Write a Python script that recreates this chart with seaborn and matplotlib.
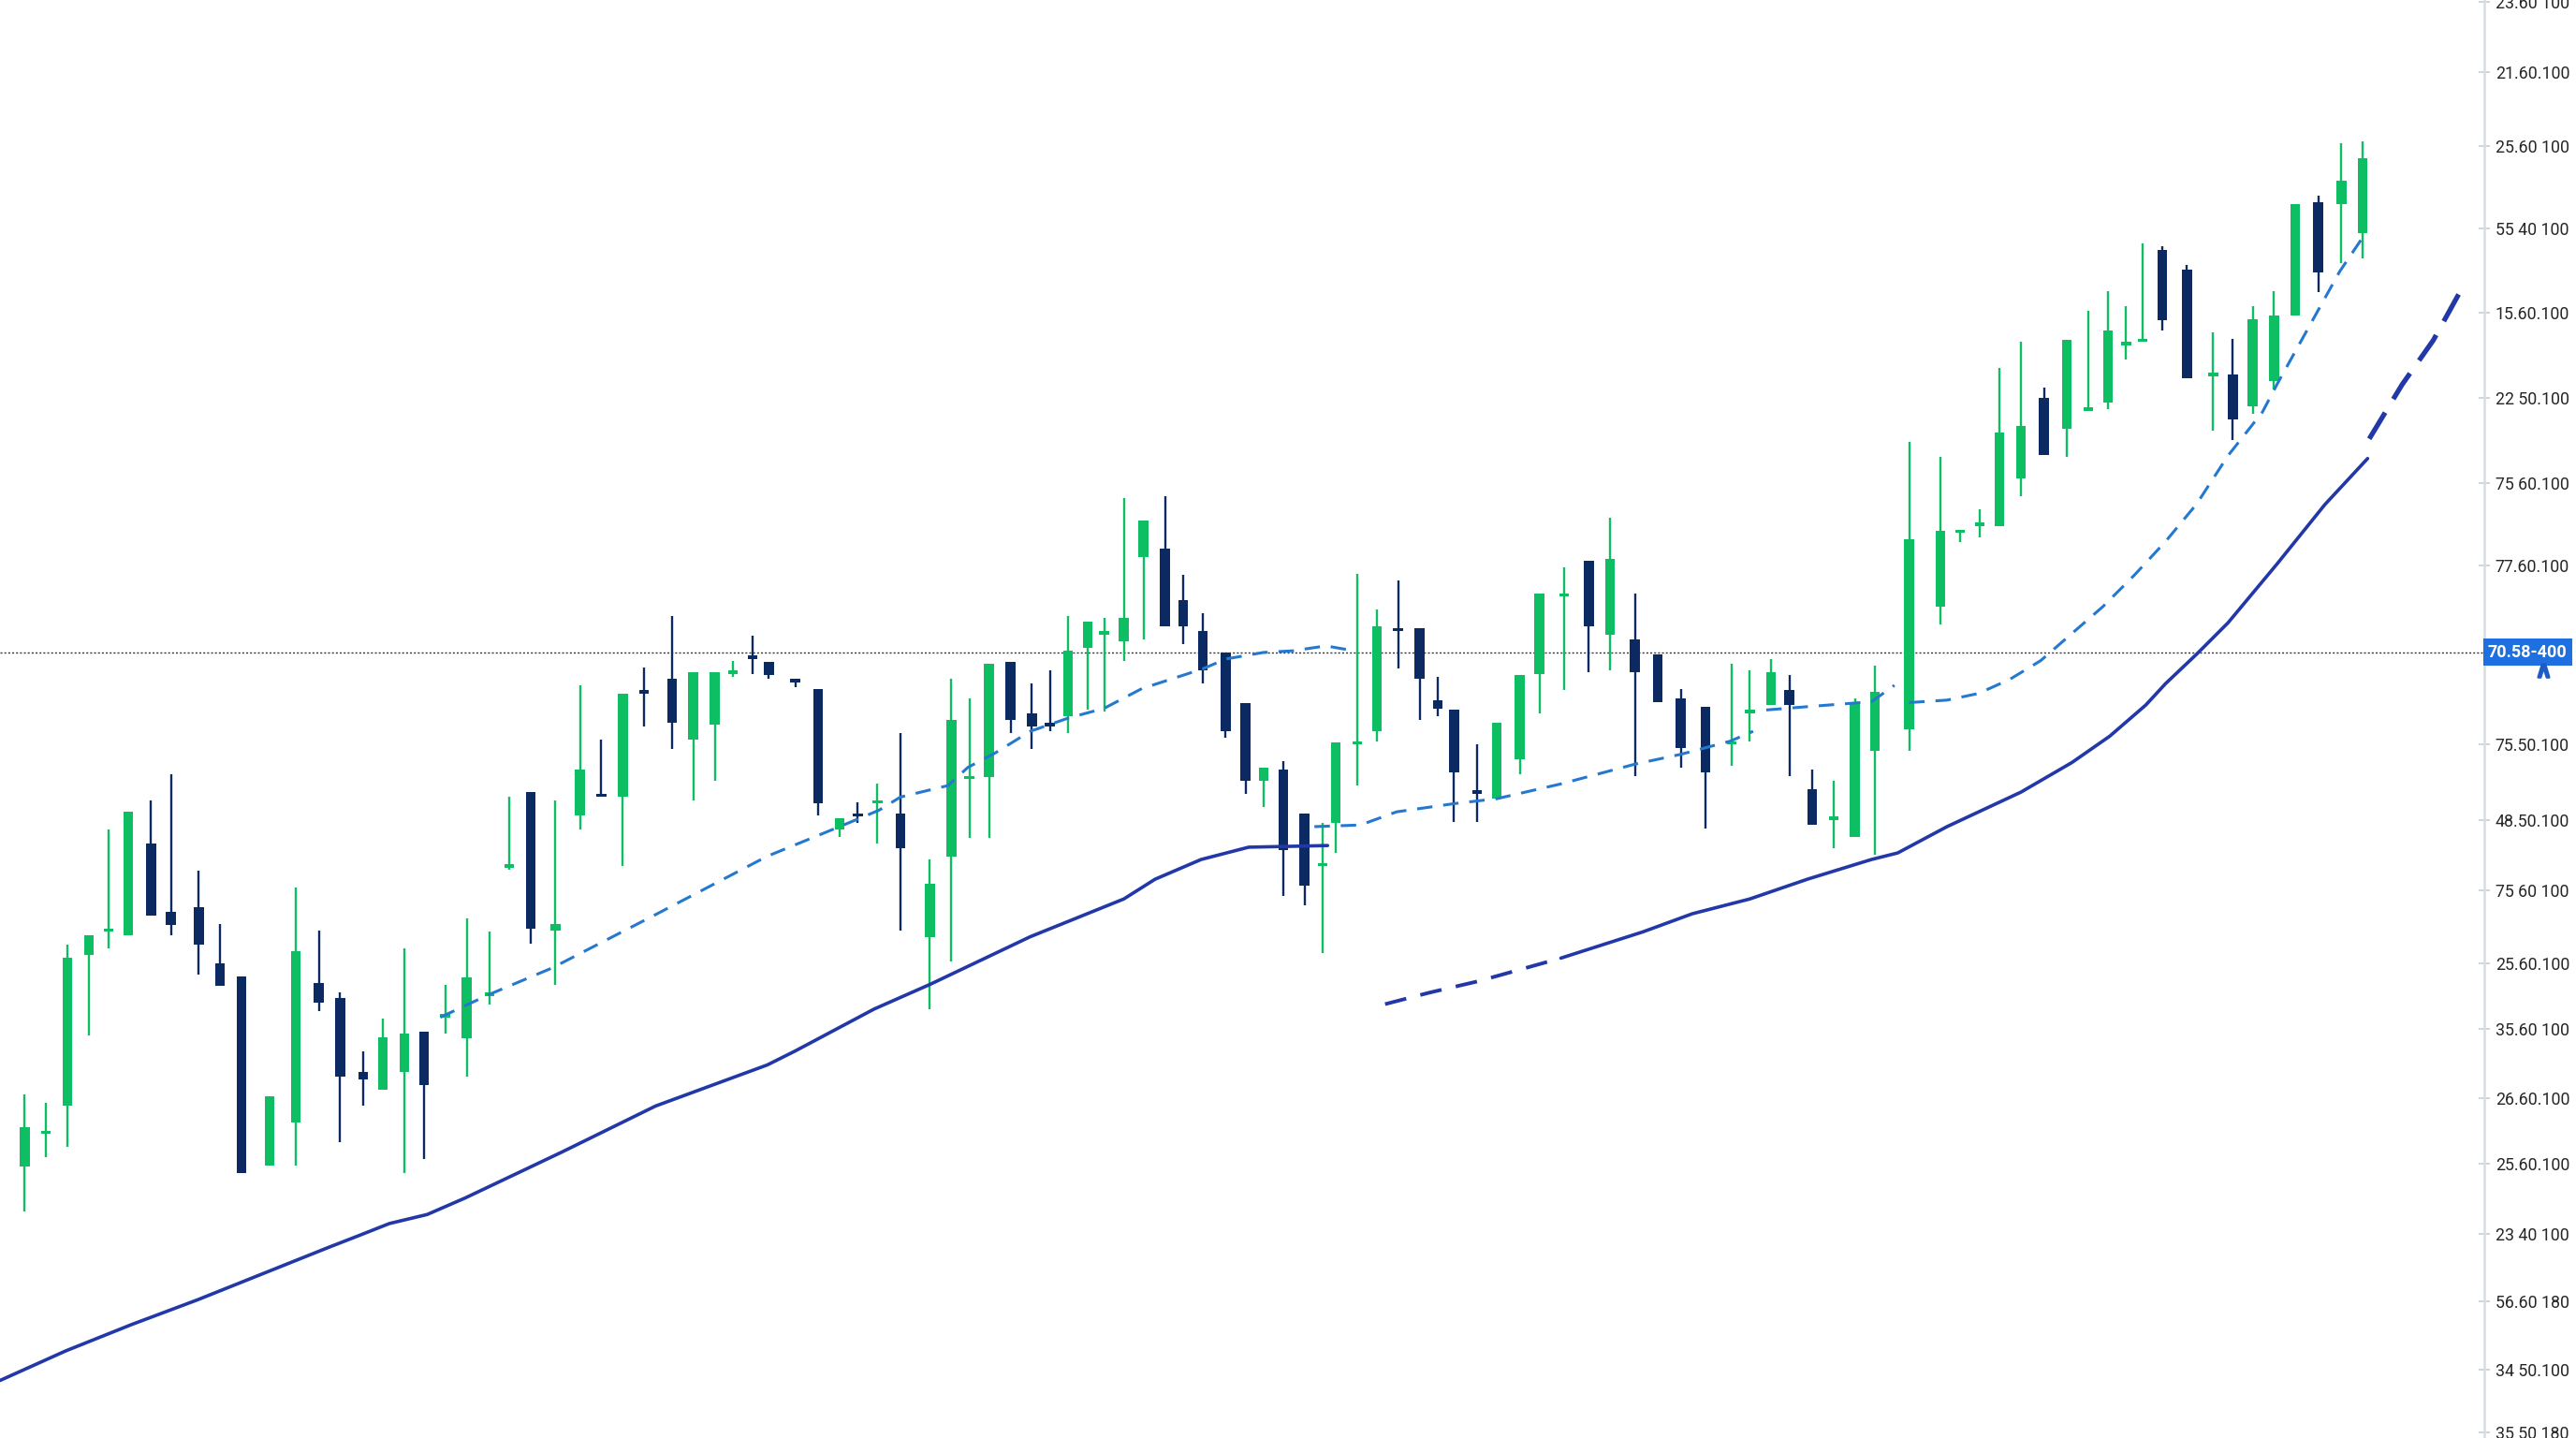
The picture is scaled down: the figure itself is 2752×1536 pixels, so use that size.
import numpy as np
import pandas as pd
import matplotlib
matplotlib.use("Agg")
import matplotlib.pyplot as plt
from matplotlib.transforms import blended_transform_factory
import seaborn as sns

# ---------------- data ----------------
# time position of each session
t = [15, 28, 41, 54, 66, 78, 92, 104, 121, 134, 147, 164, 180, 194, 207, 221, 233, 246, 258, 271,
     284, 298, 310, 323, 338, 353, 366, 379, 392, 409, 422, 435, 446, 458, 468, 484, 498, 511, 522, 534,
     548, 566, 579, 590, 602, 615, 628, 639, 650, 662, 672, 684, 696, 709, 720, 732, 746, 758, 769, 781,
     794, 805, 813, 826, 838, 851, 864, 875, 885, 899, 911, 925, 937, 952, 967, 980, 995, 1009, 1023, 1038,
     1054, 1065, 1078, 1089, 1103, 1116, 1129, 1141, 1162, 1181, 1193, 1205, 1217, 1230, 1244, 1258, 1271, 1283, 1294, 1304,
     1316, 1331, 1347, 1359, 1371, 1384, 1397, 1411, 1425, 1438]
opens = [165, 185, 202, 294, 308, 306, 362, 320, 323, 289, 281, 166, 192, 277, 268, 223, 212, 223, 247, 256,
         243, 269, 347, 393, 309, 379, 392, 390, 455, 462, 425, 434, 465, 476, 472, 462, 456, 370, 380, 386,
         380, 305, 354, 401, 402, 472, 441, 435, 439, 481, 489, 485, 536, 541, 510, 491, 478, 447, 400, 407,
         380, 348, 374, 422, 430, 493, 493, 449, 443, 394, 389, 413, 465, 512, 534, 489, 486, 477, 450, 445,
         422, 441, 446, 455, 395, 376, 366, 418, 431, 506, 551, 555, 555, 584, 633, 614, 625, 630, 665, 667,
         723, 711, 646, 647, 628, 643, 683, 752, 751, 733]
closes = [189, 187, 292, 306, 310, 381, 318, 312, 300, 275, 161, 208, 296, 265, 220, 218, 244, 246, 215, 258,
          280, 271, 349, 310, 313, 407, 390, 453, 453, 435, 466, 466, 467, 474, 464, 460, 386, 377, 378, 388,
          359, 337, 437, 403, 471, 437, 433, 433, 479, 497, 491, 499, 558, 494, 494, 467, 430, 400, 408, 358,
          336, 350, 423, 424, 494, 491, 462, 444, 405, 392, 435, 464, 514, 514, 494, 535, 466, 448, 420, 405,
          424, 443, 466, 446, 373, 378, 448, 454, 547, 552, 552, 557, 612, 616, 598, 668, 627, 674, 667, 669,
          680, 645, 648, 620, 681, 683, 751, 709, 765, 779]
highs = [209, 204, 300, 306, 370, 381, 388, 404, 345, 313, 281, 208, 335, 309, 271, 235, 255, 298, 247, 276,
         316, 308, 390, 393, 388, 458, 425, 453, 469, 500, 466, 466, 473, 488, 472, 462, 456, 377, 387, 398,
         429, 352, 462, 450, 471, 472, 459, 467, 500, 497, 499, 572, 558, 573, 525, 502, 478, 447, 408, 412,
         380, 374, 423, 526, 504, 522, 493, 463, 443, 422, 435, 464, 514, 530, 534, 560, 514, 477, 456, 445,
         471, 467, 474, 464, 407, 400, 450, 470, 606, 597, 552, 565, 651, 667, 639, 668, 686, 698, 689, 727,
         725, 714, 673, 669, 689, 698, 751, 756, 788, 789]
lows = [138, 171, 177, 245, 298, 306, 318, 306, 282, 275, 161, 166, 166, 260, 180, 202, 212, 161, 170, 246,
        220, 264, 346, 301, 276, 370, 390, 348, 433, 419, 388, 400, 463, 465, 462, 457, 379, 366, 374, 362,
        309, 261, 290, 365, 365, 429, 419, 430, 429, 443, 442, 473, 486, 494, 483, 459, 426, 392, 384, 330,
        324, 295, 356, 397, 424, 468, 437, 439, 375, 375, 389, 404, 441, 455, 466, 467, 403, 448, 408, 371,
        409, 424, 446, 403, 373, 359, 366, 355, 418, 495, 545, 548, 555, 573, 598, 597, 625, 626, 656, 667,
        674, 645, 613, 607, 623, 638, 683, 697, 715, 718]

# slow moving average (solid) and its dashed pieces
slow_a_t = [0, 40, 80, 120, 160, 200, 218, 237, 260, 283, 342, 399, 467, 484, 532, 566, 627, 684, 703, 731, 760, 808]
slow_a_v = [35, 53, 69, 84, 100, 116, 123, 130.5, 136, 146, 174, 202, 227, 235.5, 261, 276, 305, 328, 340, 352, 359.5, 360.5]
slow_b_t = [843, 870, 900, 925, 950]
slow_b_v = [264, 271, 278, 285, 292]
slow_c_t = [950, 1000, 1030, 1065, 1100, 1139, 1155, 1185, 1230, 1261, 1284, 1306, 1318, 1337, 1356, 1386, 1415, 1441]
slow_c_v = [292, 308, 319, 328, 340, 352, 356, 372, 393, 411, 427, 446, 459, 477, 496, 532, 568, 596]
slow_d_t = [1442, 1462, 1481, 1497]
slow_d_v = [608, 641, 668, 697]

# fast moving average (light dashed), drawn in pieces
fast_a_t = [268, 298, 336, 400, 467, 511, 535, 548, 577, 589, 606, 627, 650, 672, 695, 732, 746, 769, 787, 807, 824]
fast_a_v = [256, 270, 286, 319, 354, 372, 382, 390, 397, 408, 417, 430, 438, 444, 456, 468, 474, 478, 479, 482, 479]
fast_b_t = [800, 828, 850, 885, 911, 950, 995, 1023, 1053, 1067]
fast_b_v = [372, 373, 381, 386, 389, 398, 410, 416, 424, 430]
fast_c_t = [1075, 1100, 1139, 1153]
fast_c_v = [443, 445, 448, 458]
fast_d_t = [1162, 1185, 1204, 1223, 1242, 1261, 1280, 1299, 1318, 1337, 1356, 1377, 1386, 1405, 1424, 1440]
fast_d_v = [447.5, 449, 453, 461.5, 473, 489.5, 506, 525, 545.5, 568.4, 597.7, 624.3, 641.4, 675.6, 709.8, 733.5]

last_price = 478
last_price_label = "70.58-400"

tick_values = [874, 831, 786, 736, 685, 633, 581, 531, 422, 376, 333.5, 289, 249, 207, 167, 124, 83, 41.6, 3.5]
tick_labels = ["23.60 100", "21.60.100", "25.60 100", "55 40 100", "15.60.100", "22 50.100", "75 60.100",
               "77.60.100", "75.50.100", "48.50.100", "75 60 100", "25.60.100", "35.60 100", "26.60.100",
               "25.60.100", "23 40 100", "56.60 180", "34 50.100", "35 50 180"]

# ---------------- styling ----------------
sns.set_theme(style="white")
plt.rcParams['font.family'] = ['Roboto', 'DejaVu Sans']

UP = "#0DBE62"
DOWN = "#0B2A62"
SLOW = "#2238A8"
FAST = "#2479CF"

fig = plt.figure(figsize=(13.76, 7.68), dpi=200)
fig.patch.set_facecolor("white")
ax = fig.add_axes([0, 0, 2654 / 2752, 1])
ax.set_facecolor("white")

df = pd.DataFrame({"t": t, "open": opens, "close": closes, "high": highs, "low": lows})
df["up"] = df["close"] >= df["open"]
df["color"] = np.where(df["up"], UP, DOWN)
df["bottom"] = df[["open", "close"]].min(axis=1)
df["height"] = (df["close"] - df["open"]).abs().clip(lower=1.8)

# wicks and bodies
ax.vlines(df["t"], df["low"], df["high"], colors=df["color"], linewidth=0.85, zorder=2)
ax.bar(df["t"], df["height"], bottom=df["bottom"], width=6.0, color=df["color"],
       linewidth=0, zorder=2.5)

# last price dotted line
ax.axhline(last_price, color="#333333", linewidth=0.5, linestyle=(0, (1.5, 1.5)), zorder=1)


def draw_line(xs, ys, color, lw, dashes=None):
    sns.lineplot(x=xs, y=ys, ax=ax, color=color, linewidth=lw, sort=False, estimator=None,
                 legend=False, zorder=3)
    line = ax.lines[-1]
    line.set_solid_capstyle("round")
    if dashes is not None:
        line.set_dashes(dashes)
        line.set_dash_capstyle("butt")
    return line


draw_line(slow_a_t, slow_a_v, SLOW, 1.3)
draw_line(slow_b_t, slow_b_v, SLOW, 1.4, (6.0, 4.0))
draw_line(slow_c_t, slow_c_v, SLOW, 1.3)
draw_line(slow_d_t, slow_d_v, SLOW, 1.9, (6.2, 3.2))

draw_line(fast_a_t, fast_a_v, FAST, 1.1, (5.4, 3.8))
draw_line(fast_b_t, fast_b_v, FAST, 1.1, (5.4, 3.8))
draw_line(fast_c_t, fast_c_v, FAST, 1.1, (5.4, 3.8))
draw_line(fast_d_t, fast_d_v, FAST, 1.1, (5.4, 3.8))

ax.set_xlim(0, 1512)
ax.set_ylim(0, 875)
ax.set_xlabel("")
ax.set_ylabel("")
ax.set_xticks([])

ax.yaxis.tick_right()
ax.set_yticks(tick_values)
ax.set_yticklabels(tick_labels)
ax.tick_params(axis="y", which="major", direction="inout", length=4, width=0.6,
               color="#C9CDD5", pad=2.2, labelsize=6.4, labelcolor="#262626", right=True, left=False)
for side in ["top", "left", "bottom"]:
    ax.spines[side].set_visible(False)
ax.spines["right"].set_color("#D8DCE3")
ax.spines["right"].set_linewidth(0.9)

# last price label on the axis
trans = blended_transform_factory(ax.transAxes, ax.transData)
ax.text(1.0015, last_price, last_price_label, transform=trans, ha="left", va="center",
        color="white", fontsize=6.5, fontweight="bold", clip_on=False, zorder=10,
        bbox=dict(boxstyle="square,pad=0.3", fc="#1E6FE0", ec="none"))
ax.plot([1.0237], [last_price - 11], marker=r"$\wedge$", markersize=5, color="#1E5BC6",
        transform=trans, clip_on=False, zorder=11)

fig.savefig("out.png", dpi=200, facecolor="white")
